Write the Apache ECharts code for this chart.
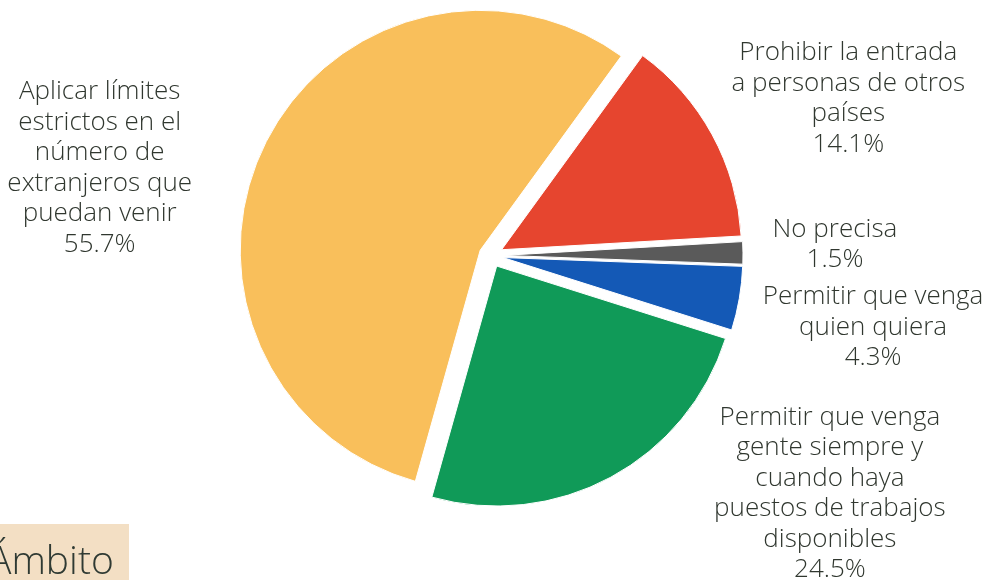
<!DOCTYPE html>
<html>
<head>
<meta charset="utf-8">
<script src="https://cdn.jsdelivr.net/npm/echarts@6/dist/echarts.min.js"></script>
<style>
html,body{margin:0;padding:0;background:#fff;}
#chart{width:986px;height:580px;}
</style>
</head>
<body>
<div id="chart"></div>
<script>
const categories = [
  'Prohibir la entrada\na personas de otros\npaíses',
  'No precisa',
  'Permitir que venga\nquien quiera',
  'Permitir que venga\ngente siempre y\ncuando haya\npuestos de trabajos\ndisponibles',
  'Aplicar límites\nestrictos en el\nnúmero de\nextranjeros que\npuedan venir'
];
const values = [14.1, 1.5, 4.3, 24.5, 55.7];
const colors = ['#E6452F', '#5A5A5A', '#1459B6', '#109A58', '#F9BF5B'];
// label shift (dx, dy) per slice relative to the default outside position
const labelShift = [[88, -29], [42, -8], [84, 26], [177, 3], [-116, 29]];

const chart = echarts.init(document.getElementById('chart'));
const FONT = '"Open Sans", Lato, sans-serif';
chart.setOption({
  animation: false,
  graphic: [
    { type: 'rect', left: 0, top: 524, shape: { width: 129, height: 60 }, style: { fill: '#F3DFC4' }, silent: true },
    { type: 'text', left: -12, top: 543, style: { text: 'Ámbito', font: '300 39px ' + FONT, fill: '#2F3A33' }, silent: true }
  ],
  series: [{
    type: 'pie',
    center: [491, 255.5],
    radius: [0, 240],
    startAngle: 54,
    clockwise: true,
    selectedMode: 'multiple',
    selectedOffset: 12,
    avoidLabelOverlap: false,
    emphasis: { disabled: true },
    itemStyle: { borderColor: '#fff', borderWidth: 1 },
    label: {
      show: true,
      position: 'outside',
      fontFamily: FONT,
      fontWeight: 300,
      fontSize: 26,
      lineHeight: 30.5,
      color: '#30372F',
      align: 'center',
      formatter: p => p.name + '\n' + p.value.toFixed(1) + '%'
    },
    labelLine: { show: false },
    labelLayout: function (params) {
      const s = labelShift[params.dataIndex];
      return { dx: s[0], dy: s[1], align: 'center', verticalAlign: 'middle' };
    },
    data: categories.map((c, i) => ({
      name: c, value: values[i], selected: true,
      itemStyle: { color: colors[i] }
    }))
  }]
});
</script>
</body>
</html>
